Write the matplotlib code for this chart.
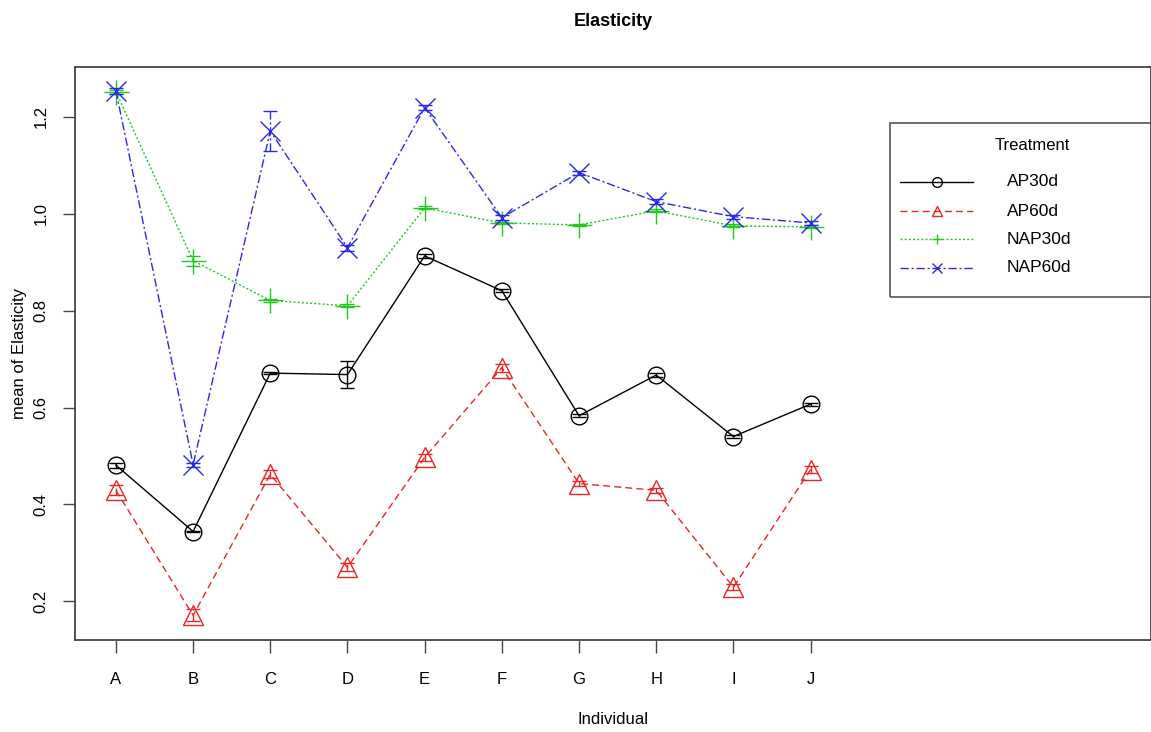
import numpy as np
import matplotlib.pyplot as plt
from matplotlib.lines import Line2D
from matplotlib.patches import Rectangle

plt.rcParams['font.family'] = ['Liberation Sans Narrow', 'Liberation Sans', 'DejaVu Sans']

# data
individuals = ['A', 'B', 'C', 'D', 'E', 'F', 'G', 'H', 'I', 'J']
treatments = ['AP30d', 'AP60d', 'NAP30d', 'NAP60d']

ap30d = [0.481, 0.344, 0.671, 0.668, 0.913, 0.841, 0.583, 0.667, 0.540, 0.607]
ap60d = [0.429, 0.171, 0.462, 0.270, 0.497, 0.682, 0.443, 0.429, 0.229, 0.472]
nap30d = [1.252, 0.903, 0.821, 0.810, 1.012, 0.981, 0.977, 1.006, 0.975, 0.973]
nap60d = [1.254, 0.482, 1.171, 0.930, 1.219, 0.992, 1.085, 1.025, 0.994, 0.981]

ap30d_se = [0.005, 0.002, 0.002, 0.027, 0.004, 0.003, 0.003, 0.004, 0.003, 0.003]
ap60d_se = [0.010, 0.012, 0.008, 0.008, 0.008, 0.008, 0.005, 0.005, 0.006, 0.008]
nap30d_se = [0.004, 0.010, 0.003, 0.003, 0.003, 0.003, 0.002, 0.003, 0.003, 0.003]
nap60d_se = [0.006, 0.004, 0.042, 0.006, 0.005, 0.005, 0.004, 0.005, 0.004, 0.004]

means = [ap30d, ap60d, nap30d, nap60d]
errors = [ap30d_se, ap60d_se, nap30d_se, nap60d_se]

# styles like R's interaction.plot
colors = ['black', '#e82525', '#22c822', '#2a2ae6']
styles = ['-', (0, (5, 3)), (0, (1.5, 1.5)), (0, (6, 2, 1.5, 2))]
markers = ['o', '^', '+', 'x']
msizes = [12, 14, 18, 14]

W, H = 1151, 732
fig = plt.figure(figsize=(W / 100, H / 100), dpi=100)
ax = fig.add_axes([75 / W, 1 - 640 / H, 1 - 75 / W, (640 - 67) / H])

x = np.arange(1, len(individuals) + 1)
for m, e, c, ls, mk, ms in zip(means, errors, colors, styles, markers, msizes):
    ax.plot(x, m, color=c, linestyle=ls, linewidth=1.0, marker=mk, markersize=ms,
            markerfacecolor='none', markeredgecolor=c, markeredgewidth=1.0)
    eb = ax.errorbar(x, m, yerr=e, fmt='none', ecolor=c, elinewidth=1.0,
                     capsize=5, capthick=1.0)
    eb[2][0].set_linestyle(ls)

ax.set_xlim(0.47, 14.41)
ax.set_ylim(0.12, 1.303)
ax.set_xticks(x)
ax.set_xticklabels(individuals)
ax.set_yticks([0.2, 0.4, 0.6, 0.8, 1.0, 1.2])
ax.set_yticklabels(['0.2', '0.4', '0.6', '0.8', '1.0', '1.2'], rotation=90, va='center')
ax.tick_params(axis='both', length=9, width=1.0, color='#444444', labelsize=12, pad=14)
ax.tick_params(axis='y', pad=10)
for s in ax.spines.values():
    s.set_color('#444444')
    s.set_linewidth(1.3)

ax.set_xlabel('Individual', fontsize=12, labelpad=18)
ax.set_ylabel('mean of Elasticity', fontsize=12, labelpad=5)
fig.text(613 / W, 1 - 22 / H, 'Elasticity', ha='center', va='center',
         fontsize=13, fontweight='bold')

# legend box drawn by hand, running off the right edge like the original
fig.add_artist(Rectangle((890 / W, 1 - 297 / H), 300 / W, 174 / H,
                         transform=fig.transFigure, fill=False,
                         edgecolor='#555555', linewidth=1.2, clip_on=False))
fig.text(1032 / W, 1 - 146 / H, 'Treatment', ha='center', va='center', fontsize=12)
rows = [182, 211, 239, 268]
for name, c, ls, mk, py in zip(treatments, colors, styles, markers, rows):
    fig.add_artist(Line2D([900 / W, 936.5 / W, 973 / W], [1 - py / H] * 3,
                          transform=fig.transFigure, color=c, linestyle=ls,
                          linewidth=1.0, marker=mk, markevery=[1], markersize=7,
                          markerfacecolor='none', markeredgecolor=c))
    fig.text(1007 / W, 1 - py / H, name, ha='left', va='center', fontsize=12.5)

plt.savefig('out.png', dpi=100)
